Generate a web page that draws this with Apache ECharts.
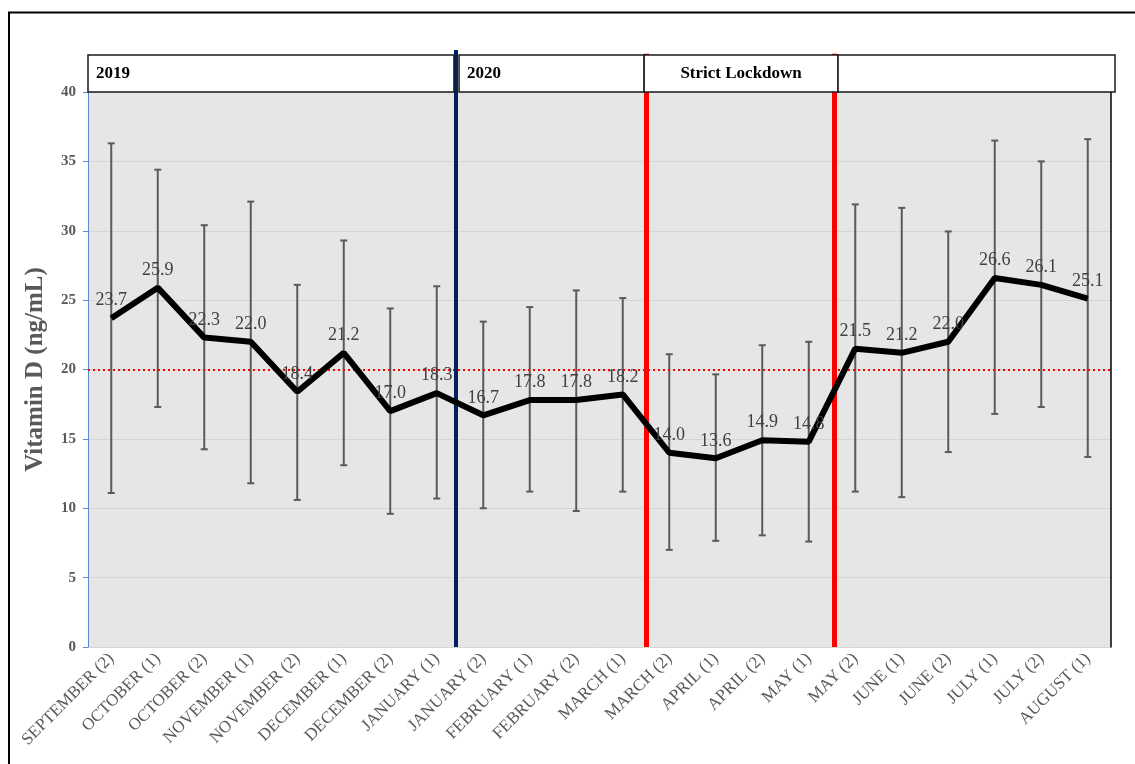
<!DOCTYPE html>
<html>
<head>
<meta charset="utf-8">
<script src="https://cdn.jsdelivr.net/npm/echarts@6/dist/echarts.min.js"></script>
<style>html,body{margin:0;padding:0;background:#fff;}#c{width:1135px;height:764px;}</style>
</head>
<body>
<div id="c"></div>
<script>
var categories = ['SEPTEMBER (2)','OCTOBER (1)','OCTOBER (2)','NOVEMBER (1)','NOVEMBER (2)','DECEMBER (1)','DECEMBER (2)','JANUARY (1)','JANUARY (2)','FEBRUARY (1)','FEBRUARY (2)','MARCH (1)','MARCH (2)','APRIL (1)','APRIL (2)','MAY (1)','MAY (2)','JUNE (1)','JUNE (2)','JULY (1)','JULY (2)','AUGUST (1)'];
var meanValues = [23.7,25.9,22.3,22.0,18.4,21.2,17.0,18.3,16.7,17.8,17.8,18.2,14.0,13.6,14.9,14.8,21.5,21.2,22.0,26.6,26.1,25.1];
var lowValues  = [11.1,17.3,14.25,11.8,10.6,13.1,9.6,10.7,10.0,11.2,9.8,11.2,7.0,7.65,8.05,7.6,11.2,10.8,14.05,16.8,17.3,13.7];
var highValues = [36.3,34.4,30.4,32.1,26.1,29.3,24.4,26.0,23.45,24.5,25.7,25.15,21.1,19.65,21.75,22.0,31.9,31.65,29.95,36.5,35.0,36.6];
var yTicks = [0,5,10,15,20,25,30,35,40];
var threshold = 20;
var periodNames = ['2019','2020','Strict Lockdown',''];
var periodStart = [0,7.98,11.96,16.13];
var periodEnd   = [7.87,11.96,16.13,22.086];
var yearDivider = 7.9;
var lockdownLines = [12.0,16.05];

var serif = '"Liberation Serif","DejaVu Serif",serif';
var grey = '#595959';

var errData = categories.map(function(c,i){ return [i, lowValues[i], highValues[i]]; });
var boxData = periodNames.map(function(n,i){ return [periodStart[i], periodEnd[i], n, i]; });

var chart = echarts.init(document.getElementById('c'));
chart.setOption({
  animation:false,
  backgroundColor:'#fff',
  graphic:[{type:'polyline', shape:{points:[[9,764],[9,12.5],[1135,12.5]]}, style:{stroke:'#000', lineWidth:2, fill:null}}],
  grid:[
    {left:88, right:24, top:92, bottom:117, show:true, backgroundColor:'#E7E6E6', borderWidth:0},
    {left:88, top:50, width:1027, height:42, show:false}
  ],
  xAxis:[
    {type:'category', gridIndex:0, data:categories, boundaryGap:true,
     axisLine:{show:false}, axisTick:{show:false},
     axisLabel:{rotate:45, interval:0, color:grey, fontFamily:serif, fontSize:17, margin:9}},
    {type:'value', gridIndex:0, min:0, max:22, show:false},
    {type:'value', gridIndex:1, min:0, max:22.086, show:false}
  ],
  yAxis:[
    {type:'value', gridIndex:0, min:0, max:40, interval:5,
     name:'Vitamin D (ng/mL)', nameLocation:'middle', nameGap:40,
     nameTextStyle:{color:grey, fontFamily:serif, fontWeight:'bold', fontSize:25},
     axisLine:{show:true, lineStyle:{color:'#5B8BD0', width:1}},
     axisTick:{show:true, length:5, lineStyle:{color:'#5B8BD0'}},
     axisLabel:{color:grey, fontFamily:serif, fontWeight:'bold', fontSize:15, margin:12},
     splitLine:{lineStyle:{color:'#D6D5D5', width:1}}},
    {type:'value', gridIndex:0, min:0, max:40, position:'right',
     axisLine:{show:true, lineStyle:{color:'#000', width:1.5}}, axisTick:{show:false}, axisLabel:{show:false}, splitLine:{show:false}},
    {type:'value', gridIndex:1, min:0, max:42, show:false}
  ],
  series:[
    {type:'line', xAxisIndex:1, yAxisIndex:0, data:[], silent:true,
     markLine:{symbol:'none', silent:true, label:{show:false},
       data:[
         {yAxis:threshold, lineStyle:{color:'#FF0000', type:[2,3], width:2}},
         {xAxis:yearDivider, lineStyle:{color:'#002060', type:'solid', width:4}},
         {xAxis:lockdownLines[0], lineStyle:{color:'#FF0000', type:'solid', width:5}},
         {xAxis:lockdownLines[1], lineStyle:{color:'#FF0000', type:'solid', width:5}}
       ]}, z:3},
    {type:'line', xAxisIndex:2, yAxisIndex:2, data:[], silent:true,
     markLine:{symbol:'none', silent:true, label:{show:false},
       data:[
         [{coord:[yearDivider,0], lineStyle:{color:'#002060', type:'solid', width:4}},{coord:[yearDivider,42]}],
         [{coord:[lockdownLines[0],0], lineStyle:{color:'#FF0000', type:'solid', width:5}},{coord:[lockdownLines[0],38.3]}],
         [{coord:[lockdownLines[1],0], lineStyle:{color:'#FF0000', type:'solid', width:5}},{coord:[lockdownLines[1],38.3]}]
       ]}, z:2},
    {type:'custom', xAxisIndex:2, yAxisIndex:2, data:boxData, z:5, silent:true,
     renderItem:function(params, api){
       var p0 = api.coord([api.value(0), 37]);
       var p1 = api.coord([api.value(1), 0]);
       var name = periodNames[api.value(3)];
       var center = name === 'Strict Lockdown';
       return {type:'group', children:[
         {type:'rect', shape:{x:p0[0], y:p0[1], width:p1[0]-p0[0], height:p1[1]-p0[1]},
          style:{fill:'#fff', stroke:'#1a1a1a', lineWidth:1.5}},
         {type:'text', style:{text:name, x: center ? (p0[0]+p1[0])/2 : p0[0]+8, y:(p0[1]+p1[1])/2,
           align: center ? 'center':'left', verticalAlign:'middle',
           font:'bold 17px ' + serif, fill:'#000'}}
       ]};
     }},
    {type:'custom', xAxisIndex:0, yAxisIndex:0, data:errData, z:4, silent:true,
     renderItem:function(params, api){
       var x = api.value(0);
       var lo = api.coord([x, api.value(1)]);
       var hi = api.coord([x, api.value(2)]);
       var st = {stroke:'#5A5A5A', lineWidth:2};
       return {type:'group', children:[
         {type:'line', shape:{x1:lo[0], y1:lo[1], x2:hi[0], y2:hi[1]}, style:st},
         {type:'line', shape:{x1:lo[0]-3.5, y1:lo[1], x2:lo[0]+3.5, y2:lo[1]}, style:st},
         {type:'line', shape:{x1:hi[0]-3.5, y1:hi[1], x2:hi[0]+3.5, y2:hi[1]}, style:st}
       ]};
     }},
    {type:'line', xAxisIndex:0, yAxisIndex:0, data:meanValues, z:6,
     symbol:'circle', symbolSize:1, showSymbol:true,
     lineStyle:{color:'#000', width:6}, itemStyle:{color:'#000', opacity:0},
     label:{show:true, position:'top', distance:8, color:'#404040', fontFamily:serif, fontSize:18, opacity:1,
       formatter:function(p){ return Number(p.value).toFixed(1); }},
     labelLayout:{hideOverlap:false}}
  ]
});
</script>
</body>
</html>
